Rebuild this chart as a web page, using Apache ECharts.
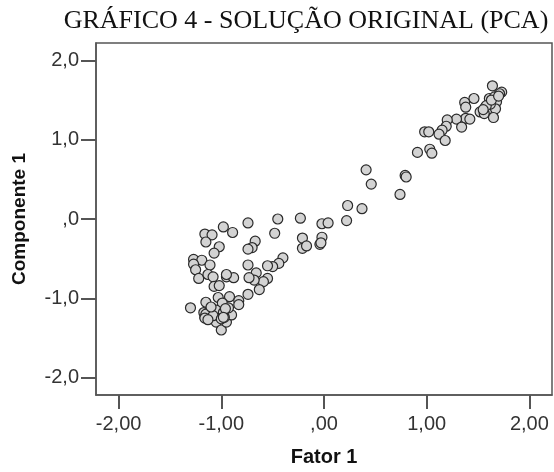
<!DOCTYPE html>
<html>
<head>
<meta charset="utf-8">
<script src="https://cdn.jsdelivr.net/npm/echarts@6/dist/echarts.min.js"></script>
<style>html,body{margin:0;padding:0;background:#fff}#c{width:554px;height:472px}</style>
</head>
<body>
<div id="c"></div>
<script>
const chartTitle = "GRÁFICO 4 - SOLUÇÃO ORIGINAL (PCA)";
const xAxisTitle = "Fator 1";
const yAxisTitle = "Componente 1";
const tickValues = [-2, -1, 0, 1, 2];
const xTickLabels = ["-2,00", "-1,00", ",00", "1,00", "2,00"];
const yTickLabels = ["-2,0", "-1,0", ",0", "1,0", "2,0"];
const fator1 = [
  1.64,1.73,1.46,1.37,1.61,1.66,1.71,1.68,1.57,1.60,1.67,1.52,1.56,1.65,1.38,1.38,1.42,1.29,1.20,1.19,1.34,1.15,1.12,1.18,0.98,1.02,1.03,1.05,0.91,1.62,1.58,1.63,1.70,1.55,
  0.41,0.46,0.79,0.80,0.74,0.23,0.37,0.22,-0.02,0.04,-0.23,-0.45,-0.74,-0.48,-0.21,-0.21,-0.17,-0.02,-0.04,-0.03,-0.67,-0.70,-0.74,-0.98,-0.89,-1.16,-1.09,-1.15,-1.02,-1.07,
  -0.40,-0.44,-0.50,-0.55,-0.74,-0.66,-0.55,-0.59,-0.68,-0.73,-0.63,-0.74,-1.27,-1.19,-1.11,-1.27,-1.25,-1.22,-1.13,-1.08,-0.95,-0.88,-0.95,-1.07,-1.02,
  -1.30,-1.15,-1.03,-0.92,-0.83,-0.83,-0.99,-1.17,-1.16,-1.11,-1.05,-1.05,-1.00,-0.95,-0.90,-0.93,-0.98,-1.15,-1.08,-1.00,-0.97,-1.10,-0.96,-0.98,-1.16,-1.13
];
const componente1 = [
  1.68,1.60,1.52,1.47,1.52,1.54,1.58,1.48,1.41,1.39,1.39,1.35,1.33,1.28,1.41,1.27,1.26,1.26,1.25,1.17,1.16,1.12,1.07,0.99,1.10,1.10,0.88,0.83,0.84,1.45,1.43,1.50,1.55,1.38,
  0.62,0.44,0.55,0.53,0.31,0.17,0.13,-0.02,-0.06,-0.05,0.01,0.00,-0.05,-0.18,-0.24,-0.37,-0.34,-0.23,-0.32,-0.30,-0.28,-0.36,-0.38,-0.10,-0.17,-0.19,-0.20,-0.29,-0.35,-0.43,
  -0.49,-0.56,-0.60,-0.59,-0.58,-0.68,-0.75,-0.79,-0.77,-0.74,-0.89,-0.95,-0.51,-0.52,-0.58,-0.57,-0.64,-0.75,-0.70,-0.73,-0.73,-0.74,-0.70,-0.85,-0.84,
  -1.12,-1.05,-0.99,-0.98,-1.03,-1.08,-1.06,-1.18,-1.24,-1.15,-1.15,-1.30,-1.40,-1.30,-1.21,-1.12,-1.18,-1.20,-1.22,-1.26,-1.24,-1.11,-1.13,-1.24,-1.25,-1.27
];

const points = fator1.map((x, i) => [x, componente1[i]]);
const fmt = (labels) => (v) => {
  const i = tickValues.findIndex(t => Math.abs(t - v) < 1e-6);
  return i >= 0 ? labels[i] : "";
};

const chart = echarts.init(document.getElementById('c'), null, {renderer: 'canvas'});
chart.setOption({
  animation: false,
  backgroundColor: '#ffffff',
  title: {
    text: chartTitle,
    left: 301, top: 3, textAlign: 'center',
    textStyle: {fontFamily: 'Liberation Serif', fontWeight: 'normal', fontSize: 26, color: '#111'}
  },
  grid: {left: 96, right: 2, top: 43, bottom: 73, show: true, borderColor: '#555', borderWidth: 1.5, backgroundColor: '#fff'},
  xAxis: {
    type: 'value', min: -2.22, max: 2.22,
    name: xAxisTitle, nameLocation: 'middle', nameGap: 52,
    nameTextStyle: {fontFamily: 'Liberation Sans', fontWeight: 'bold', fontSize: 20, color: '#111'},
    axisLine: {show: true, onZero: false, lineStyle: {color: '#555', width: 1.5}},
    axisTick: {show: true, inside: false, length: 14, lineStyle: {color: '#555', width: 2}, customValues: tickValues},
    axisLabel: {customValues: tickValues, formatter: fmt(xTickLabels), margin: 19, fontFamily: 'Liberation Sans', fontSize: 20, color: '#333'},
    splitLine: {show: false}
  },
  yAxis: {
    type: 'value', min: -2.22, max: 2.22,
    name: yAxisTitle, nameLocation: 'middle', nameGap: 67, nameRotate: 90,
    nameTextStyle: {fontFamily: 'Liberation Sans', fontWeight: 'bold', fontSize: 19, color: '#111'},
    axisLine: {show: true, onZero: false, lineStyle: {color: '#555', width: 1.5}},
    axisTick: {show: true, inside: false, length: 15, lineStyle: {color: '#555', width: 2}, customValues: tickValues},
    axisLabel: {customValues: tickValues, formatter: fmt(yTickLabels), margin: 17, fontFamily: 'Liberation Sans', fontSize: 20, color: '#333'},
    splitLine: {show: false}
  },
  series: [{
    type: 'scatter',
    data: points,
    symbol: 'circle',
    symbolSize: 10,
    itemStyle: {color: '#d3d3d3', borderColor: '#2a2a2a', borderWidth: 1.2, opacity: 1}
  }]
});
</script>
</body>
</html>
